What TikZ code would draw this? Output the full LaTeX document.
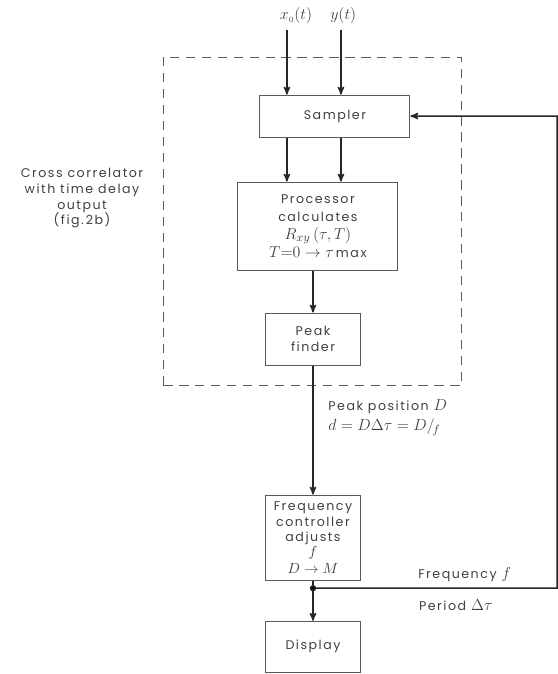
\documentclass[tikz,border=0pt]{standalone}
\usepackage{fontspec}
\setmainfont[LetterSpace=12]{Poppins}
\usetikzlibrary{arrows}
\tikzstyle{box} = [draw=black!65, line width=0.7pt, align=center, text=black!75, minimum width=2.51cm]
\tikzstyle{invis} = [draw=none, align=center, text=black!75]
\tikzstyle{dot} = [draw, fill=black, circle, inner sep=1.3pt]
\newcommand{\mth}[1]{{\fontsize{12.5}{14}\selectfont$#1$}}
\newcommand{\mths}[1]{{\fontsize{11}{12}\selectfont$#1$}}

\begin{document}
\begin{tikzpicture}[->,>=stealth',auto,node distance=1cm,line width=1.1pt,draw=black!85,font=\fontsize{9.5}{12}\selectfont]
\useasboundingbox (0,0) rectangle (14.76,-17.83);

\node[box, minimum width=3.97cm, minimum height=1.11cm] (sampler) at (8.86,-3.07) {Sampler};
\node[box, below of = sampler, xshift=-0.45cm, yshift=-1.91cm, minimum width=4.23cm, minimum height=2.33cm, font=\fontsize{9.5}{13.5}\selectfont] (proc) {Processor\\calculates\\\mth{R_{xy}\,(\tau,T)}\\\mth{T{=}0\rightarrow\tau}\,max};
\node[box, below of = proc, xshift=-0.13cm, yshift=-1.99cm, minimum height=1.38cm] (peak) {Peak\\finder};
\node[box, below of = peak, yshift=-4.25cm, minimum height=2.25cm, inner sep=2pt] (freq) {Frequency\\controller\\adjusts\\[-1pt]\mths{f}\\[1pt]\mths{D\rightarrow M}};
\node[dot, below of = freq, yshift=-0.34cm] (split) {};
\node[box, below of = split, yshift=-0.55cm, minimum height=1.35cm] (display) {Display};

\node[draw=black!65, line width=0.8pt, dash pattern=on 7pt off 5pt, minimum width=7.88cm, minimum height=8.70cm] (corr) at (8.26,-5.86) {};
\node[invis] (l1) at (2.17,-5.24) {Cross correlator\\with time delay\\output\\(fig.\,2b)};

% inputs
\coordinate (xin) at (7.59,-0.79);
\coordinate (yin) at (9.02,-0.79);
\node[invis] (xlab) at (7.83,-0.42) {\mth{x_{\scriptscriptstyle 0}(t)}};
\node[invis] (ylab) at (9.08,-0.42) {\mth{y(t)}};

% feedback
\coordinate (c1) at (14.74,-15.56);

\node[invis, anchor=west] (pos) at (8.55,-10.77) {Peak position \mth{D}};
\node[invis, anchor=west] (dlab) at (8.55,-11.30) {\mth{d=D\Delta\tau=D/_{\!f}}};
\node[invis, anchor=west] (flab) at (10.93,-15.21) {Frequency \mth{f}};
\node[invis, anchor=west] (plab) at (10.95,-16.00) {Period \mth{\Delta\tau}};

\path
(xin) edge [] node {} (xin |- sampler.north)
(yin) edge [] node {} (yin |- sampler.north)
(xin |- sampler.south) edge [] node {} (xin |- proc.north)
(yin |- sampler.south) edge [] node {} (yin |- proc.north)
(peak.north |- proc.south) edge [] node {} (peak.north)
(peak.south) edge [] node {} (freq.north)
(freq.south) edge [-] node {} (split)
(split) edge [] node {} (display.north);

\draw (split) -- (c1) |- (sampler.east);

\end{tikzpicture}
\end{document}
